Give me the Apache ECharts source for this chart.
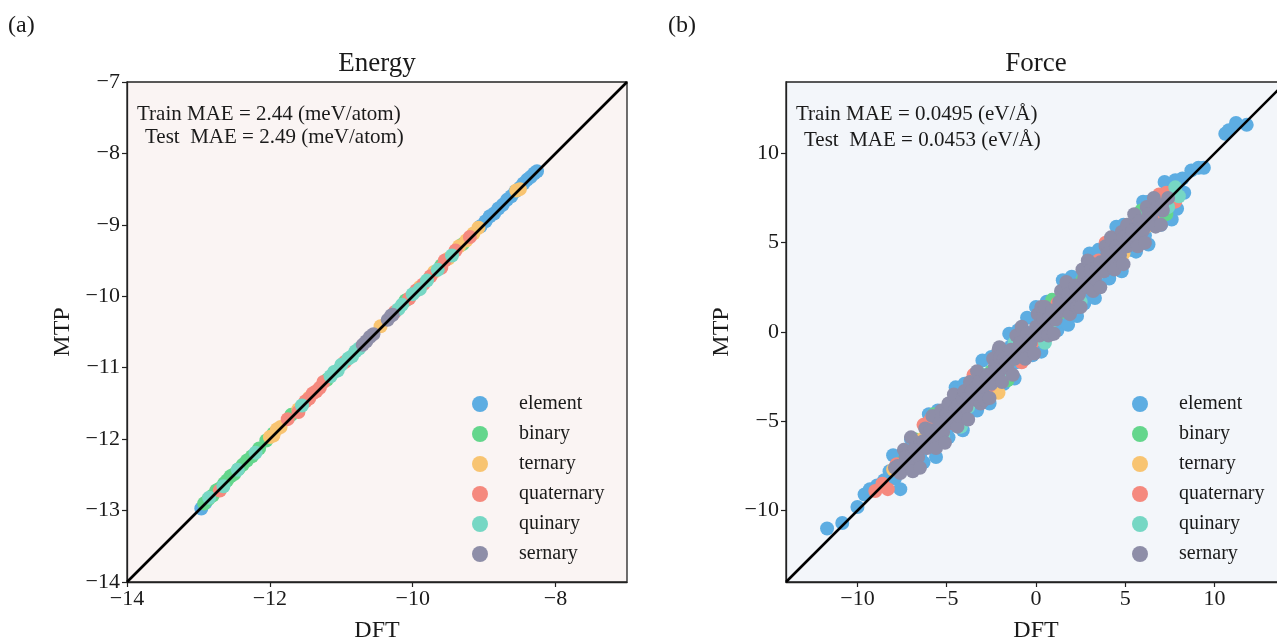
<!DOCTYPE html>
<html>
<head>
<meta charset="utf-8">
<title>MTP vs DFT parity plots</title>
<script src="https://cdn.jsdelivr.net/npm/echarts@6/dist/echarts.min.js"></script>
<style>
  html, body { margin: 0; padding: 0; background: #ffffff; }
  #chart { width: 1277px; height: 641px; }
</style>
</head>
<body>
<div id="chart"></div>
<script>
// ---- categories ----
const categories = ['element', 'binary', 'ternary', 'quaternary', 'quinary', 'sernary'];
const categoryColors = ['#5DADE2', '#64D68C', '#F8C471', '#F5897E', '#76D7C4', '#8E8EA8'];

// ---- tick labels ----
const energyXTicks = [-14, -12, -10, -8];
const energyYTicks = [-14, -13, -12, -11, -10, -9, -8, -7];
const forceTicks = [-10, -5, 0, 5, 10];

// ---- energy parity (DFT, MTP) in eV/atom ----
const energyElement = [[-12.96, -12.97], [-12.9, -12.89], [-9.05, -9.02], [-8.98, -8.95], [-8.92, -8.88],
  [-8.86, -8.84], [-8.8, -8.77], [-8.74, -8.72], [-8.68, -8.65], [-8.62, -8.6], [-8.56, -8.53],
  [-8.5, -8.48], [-8.45, -8.42], [-8.4, -8.37], [-8.35, -8.33], [-8.3, -8.28], [-8.26, -8.25]];
const energyBinary = [[-12.92, -12.9], [-12.86, -12.84], [-12.8, -12.79], [-12.75, -12.72], [-12.7, -12.69],
  [-12.64, -12.62], [-12.6, -12.58], [-12.55, -12.52], [-12.5, -12.49], [-12.44, -12.42], [-12.38, -12.36],
  [-12.32, -12.3], [-12.25, -12.24], [-12.15, -12.13], [-12.05, -12.02], [-11.95, -11.92], [-11.7, -11.66],
  [-11.2, -11.17], [-10.1, -10.06], [-9.6, -9.57], [-9.3, -9.27]];
const energyTernary = [[-12.0, -11.97], [-11.95, -11.95], [-11.9, -11.86], [-11.85, -11.83], [-11.6, -11.58],
  [-11.45, -11.42], [-10.45, -10.42], [-9.9, -9.87], [-9.7, -9.66], [-9.5, -9.47], [-9.35, -9.3],
  [-9.25, -9.22], [-9.15, -9.12], [-9.08, -9.04], [-8.55, -8.52], [-8.5, -8.5]];
const energyQuaternary = [[-12.7, -12.72], [-11.75, -11.72], [-11.6, -11.62], [-11.5, -11.47], [-11.45, -11.43],
  [-11.4, -11.36], [-11.35, -11.33], [-11.3, -11.28], [-11.25, -11.2], [-10.95, -10.92], [-10.25, -10.22],
  [-10.05, -10.03], [-9.95, -9.92], [-9.85, -9.83], [-9.75, -9.72], [-9.6, -9.6], [-9.55, -9.5],
  [-9.4, -9.36], [-9.2, -9.17]];
const energyQuinary = [[-12.85, -12.82], [-12.65, -12.66], [-12.45, -12.43], [-12.2, -12.19], [-11.55, -11.53],
  [-11.15, -11.12], [-11.1, -11.06], [-11.05, -11.04], [-11.0, -10.96], [-10.9, -10.87], [-10.85, -10.84],
  [-10.8, -10.77], [-10.75, -10.73], [-10.2, -10.18], [-10.15, -10.12], [-10.0, -9.97], [-9.9, -9.9],
  [-9.8, -9.78], [-9.65, -9.63], [-9.45, -9.43]];
const energySernary = [[-10.7, -10.68], [-10.65, -10.63], [-10.6, -10.57], [-10.55, -10.53],
  [-10.35, -10.33], [-10.3, -10.27], [-10.28, -10.26]];

// ---- force parity (DFT, MTP) in eV/Å ----
const forceElement = [[-11.7, -11.0], [-10.85, -10.7], [-10.0, -9.8], [-9.6, -9.1], [-9.3, -8.8], [-8.9, -8.6],
  [-8.5, -8.3], [-8.2, -7.8], [-8.0, -6.9], [-7.9, -8.2], [-7.6, -8.8], [-7.5, -7.0], [-7.2, -7.6],
  [-7.0, -6.0], [-6.8, -6.3], [-6.5, -6.9], [-6.3, -7.3], [-6.6, -6.1], [-6.0, -4.6], [-6.0, -5.6],
  [-5.8, -6.3], [-5.6, -7.0], [-5.5, -4.4], [-5.3, -4.8], [-5.0, -5.5], [-4.9, -5.9], [-4.6, -4.1],
  [-4.5, -3.1], [-4.3, -4.8], [-4.1, -5.5], [-4.0, -2.9], [-3.8, -3.3], [-3.5, -4.0], [-3.3, -4.4],
  [-3.0, -1.6], [-3.0, -2.5], [-2.7, -3.2], [-2.6, -4.0], [-2.5, -1.4], [-2.2, -1.6], [-1.9, -2.5],
  [-1.8, -2.9], [-1.5, -0.1], [-1.4, -0.8], [-1.2, -2.6], [-1.1, -1.7], [-1.0, 0.1], [-0.6, 0.0],
  [-0.5, 0.8], [-0.3, -0.9], [-0.2, -1.3], [0.0, 1.4], [0.2, 0.8], [0.3, -1.1], [0.5, -0.2], [0.6, 1.7],
  [0.9, -0.1], [1.0, 1.6], [1.2, 0.1], [1.3, 0.6], [1.5, 2.9], [1.8, 2.4], [1.8, 0.4], [2.0, 3.1],
  [2.1, 1.4], [2.3, 0.9], [2.6, 3.2], [2.7, 1.6], [2.9, 2.2], [3.0, 4.4], [3.3, 1.9], [3.4, 4.0],
  [3.5, 4.6], [3.7, 3.0], [4.1, 3.0], [4.2, 4.8], [4.3, 5.0], [4.5, 5.9], [4.5, 3.9], [4.8, 3.4],
  [4.9, 6.0], [5.0, 5.6], [5.3, 4.6], [5.6, 4.5], [5.8, 6.3], [6.0, 7.3], [6.1, 5.4], [6.3, 7.3],
  [6.3, 4.9], [6.6, 7.1], [6.9, 6.3], [7.0, 6.0], [7.2, 8.4], [7.4, 7.8], [7.6, 7.1], [7.6, 6.3],
  [7.8, 8.5], [7.9, 6.9], [8.0, 8.4], [8.2, 8.6], [8.3, 7.8], [8.7, 9.05], [9.1, 9.2], [9.4, 9.2],
  [10.6, 11.1], [10.8, 11.3], [11.2, 11.7], [11.8, 11.6]];
const forceBinary = [[-7.5, -7.3], [-6.8, -6.0], [-6.2, -6.4], [-5.7, -4.6], [-5.0, -4.7], [-4.4, -4.9],
  [-3.7, -3.9], [-3.2, -2.3], [-2.5, -2.2], [-1.6, -2.7], [-1.2, -1.5], [-0.4, -1.0], [0.3, 0.6],
  [0.9, 1.8], [1.4, 1.1], [1.9, 2.6], [2.6, 2.9], [3.4, 2.5], [3.9, 3.6], [4.6, 4.2], [5.2, 5.5],
  [5.9, 6.8], [6.4, 6.1], [6.7, 7.3], [7.2, 7.5], [7.3, 6.6], [7.6, 7.3]];
const forceTernary = [[-8.0, -7.7], [-6.4, -6.0], [-5.5, -5.2], [-4.1, -3.9], [-3.1, -3.4], [-2.1, -3.4],
  [-0.9, -0.5], [0.7, 0.4], [2.2, 2.5], [3.7, 3.4], [4.9, 4.4], [5.0, 5.3], [6.2, 5.9], [7.3, 7.5]];
const forceQuaternary = [[-9.0, -8.9], [-8.6, -8.5], [-8.3, -8.8], [-7.8, -7.4], [-6.9, -7.2], [-6.3, -5.2],
  [-5.9, -4.9], [-5.6, -5.0], [-5.3, -4.7], [-4.7, -5.1], [-3.5, -2.4], [-3.3, -2.8], [-2.6, -3.0],
  [-1.5, -1.1], [-0.8, -1.7], [-0.2, -0.6], [0.4, 1.4], [1.2, 1.6], [2.3, 1.8], [2.8, 3.5], [3.5, 4.0],
  [3.9, 5.0], [4.4, 4.0], [5.6, 6.1], [6.6, 6.2], [6.9, 7.7], [7.3, 7.8], [7.8, 7.3]];
const forceQuinary = [[-7.2, -7.0], [-6.0, -6.3], [-5.2, -5.8], [-4.9, -4.5], [-4.2, -5.3], [-3.8, -4.2],
  [-2.8, -2.4], [-1.7, -2.1], [-1.2, -0.6], [-0.4, -0.2], [0.5, -0.6], [0.8, 0.5], [1.9, 2.2],
  [2.5, 1.7], [3.0, 2.6], [4.1, 4.5], [5.2, 4.9], [5.7, 5.0], [6.3, 6.7], [7.4, 7.0], [7.8, 8.1], [8.0, 7.6]];
const forceSernary = [[-7.9, -7.6], [-7.75, -7.5], [-7.6, -7.9], [-7.4, -6.6], [-7.3, -7.0], [-7.1, -7.4],
  [-7.0, -5.9], [-6.95, -6.8], [-6.9, -7.8], [-6.8, -6.5], [-6.6, -7.0], [-6.5, -7.6], [-6.45, -6.2],
  [-6.3, -6.1], [-6.2, -5.4], [-6.1, -6.5], [-5.9, -5.5], [-5.85, -6.1], [-5.8, -4.7], [-5.7, -6.0],
  [-5.6, -6.5], [-5.5, -5.4], [-5.4, -5.1], [-5.3, -4.4], [-5.2, -5.6], [-5.1, -6.2], [-5.0, -4.6],
  [-4.95, -4.9], [-4.9, -4.0], [-4.8, -5.1], [-4.6, -3.5], [-4.5, -4.3], [-4.4, -5.3], [-4.35, -4.1],
  [-4.3, -4.7], [-4.1, -3.7], [-4.0, -3.3], [-3.9, -4.2], [-3.8, -4.9], [-3.75, -3.6], [-3.7, -2.8],
  [-3.6, -3.3], [-3.4, -3.8], [-3.3, -2.2], [-3.25, -3.1], [-3.2, -2.8], [-3.1, -4.0], [-3.0, -3.3],
  [-2.9, -3.8], [-2.8, -2.6], [-2.7, -2.4], [-2.6, -3.7], [-2.5, -2.9], [-2.4, -1.5], [-2.3, -1.9],
  [-2.2, -2.1], [-2.1, -2.4], [-2.1, -1.0], [-2.05, -0.85], [-2.0, -1.4], [-1.9, -2.8], [-1.8, -1.5],
  [-1.65, -1.7], [-1.6, -2.0], [-1.4, -1.0], [-1.3, -2.4], [-1.2, -1.5], [-1.1, -0.2], [-1.0, -1.0],
  [-0.9, -0.6], [-0.8, 0.3], [-0.7, -1.1], [-0.6, -1.5], [-0.5, -0.1], [-0.4, -0.5], [-0.3, -0.6],
  [-0.1, -1.2], [0.0, 0.3], [0.1, 1.0], [0.15, 0.1], [0.2, -0.2], [0.3, 1.4], [0.4, 0.8], [0.5, 1.4],
  [0.6, 0.3], [0.7, -0.2], [0.75, 0.8], [0.9, 1.2], [1.0, -0.1], [1.1, 0.7], [1.25, 1.2], [1.3, 1.7],
  [1.4, 2.3], [1.5, 1.2], [1.6, 2.4], [1.7, 2.8], [1.75, 1.7], [1.8, 2.1], [1.9, 1.0], [2.0, 1.6],
  [2.2, 2.6], [2.25, 2.2], [2.3, 1.4], [2.4, 2.1], [2.5, 1.4], [2.6, 3.5], [2.7, 3.0], [2.8, 2.7],
  [2.9, 2.5], [2.9, 4.0], [3.0, 3.9], [3.1, 3.5], [3.2, 2.3], [3.3, 3.0], [3.4, 3.5], [3.6, 3.9],
  [3.6, 2.5], [3.8, 3.4], [3.9, 4.8], [3.95, 4.0], [4.0, 4.4], [4.2, 3.9], [4.2, 5.3], [4.4, 3.5],
  [4.5, 4.8], [4.55, 4.5], [4.7, 4.3], [4.8, 5.6], [4.9, 5.3], [4.9, 3.8], [5.1, 4.8], [5.1, 6.0],
  [5.2, 5.2], [5.4, 5.7], [5.5, 6.6], [5.6, 5.2], [5.7, 4.8], [5.8, 6.2], [5.85, 5.8], [6.0, 5.7],
  [6.1, 5.0], [6.2, 7.0], [6.3, 6.6], [6.45, 6.4], [6.5, 6.1], [6.6, 7.5], [6.7, 5.9], [6.8, 7.0],
  [7.0, 6.0], [7.05, 7.1], [7.1, 6.8], [7.4, 7.5]];

// ---- y = x reference lines ----
const energyDiagonal = [[-14, -14], [-7, -7]];
const forceDiagonal = [[-14, -14], [14, 14]];

const energySets = [energyElement, energyBinary, energyTernary, energyQuaternary, energyQuinary, energySernary];
const forceSets = [forceElement, forceBinary, forceTernary, forceQuaternary, forceQuinary, forceSernary];

const SERIF = '"Liberation Serif", "DejaVu Serif", serif';
const INK = '#1a1a1a';
const minusFmt = v => String(v).replace('-', '\u2212');

function makeAxis(gridIndex, min, max, ticks, name, isY, nameGap) {
  return {
    type: 'value', gridIndex, min, max,
    name, nameLocation: 'middle', nameGap,
    nameTextStyle: { fontFamily: SERIF, fontSize: 24, color: INK },
    axisLine: { show: true, onZero: false, lineStyle: { color: '#222', width: 1.3 } },
    axisTick: { show: true, inside: false, length: 5, customValues: ticks, lineStyle: { color: '#222', width: 1.2 } },
    axisLabel: { customValues: ticks, formatter: minusFmt, fontFamily: SERIF, fontSize: 22, color: INK, margin: isY ? 7 : 6 },
    splitLine: { show: false }
  };
}

function scatterSeries(sets, axisIndex) {
  return sets.map((pts, i) => ({
    type: 'scatter', name: categories[i], xAxisIndex: axisIndex, yAxisIndex: axisIndex,
    data: pts, symbol: 'circle', symbolSize: 14,
    itemStyle: { color: categoryColors[i], opacity: 1 },
    emphasis: { disabled: true }, z: 2 + i * 0.01
  }));
}

function diagonal(pts, axisIndex) {
  return {
    type: 'line', xAxisIndex: axisIndex, yAxisIndex: axisIndex, data: pts,
    symbol: 'none', silent: true, clip: true,
    lineStyle: { color: '#000', width: 2.6 }, z: 5
  };
}

function legendAt(left) {
  return {
    data: categories, orient: 'vertical', left, top: 394, padding: 0,
    icon: 'circle', itemWidth: 16, itemHeight: 16, itemGap: 10,
    textStyle: { fontFamily: SERIF, fontSize: 20, color: INK, lineHeight: 20, padding: [0, 0, 0, 26] },
    selectedMode: false
  };
}

function txt(x, y, text, size, align) {
  return {
    type: 'text', x, y,
    style: { text, fontFamily: SERIF, fontSize: size, fill: INK, align: align || 'left', verticalAlign: 'middle' },
    z: 10
  };
}

const chart = echarts.init(document.getElementById('chart'), null, { renderer: 'canvas' });

const gridBase = { top: 82, width: 500, height: 500, show: true, borderColor: '#222', borderWidth: 1.3,
  containLabel: false, outerBoundsMode: 'none' };

chart.setOption({
  backgroundColor: '#ffffff',
  animation: false,
  grid: [
    Object.assign({}, gridBase, { left: 127, backgroundColor: '#faf4f3' }),
    Object.assign({}, gridBase, { left: 786, backgroundColor: '#f3f6fa' })
  ],
  xAxis: [
    makeAxis(0, -14, -7, energyXTicks, 'DFT', false, 37),
    makeAxis(1, -14, 14, forceTicks, 'DFT', false, 37)
  ],
  yAxis: [
    makeAxis(0, -14, -7, energyYTicks, 'MTP', true, 52),
    makeAxis(1, -14, 14, forceTicks, 'MTP', true, 52)
  ],
  legend: [legendAt(472), legendAt(1132)],
  series: [
    ...scatterSeries(energySets, 0),
    diagonal(energyDiagonal, 0),
    ...scatterSeries(forceSets, 1),
    diagonal(forceDiagonal, 1)
  ],
  graphic: [
    txt(8, 26, '(a)', 24),
    txt(668, 26, '(b)', 24),
    txt(377, 64, 'Energy', 27, 'center'),
    txt(1036, 64, 'Force', 27, 'center'),
    txt(137, 114, 'Train MAE = 2.44 (meV/atom)', 21),
    txt(145, 137, 'Test  MAE = 2.49 (meV/atom)', 21),
    txt(796, 114, 'Train MAE = 0.0495 (eV/\u00C5)', 21),
    txt(804, 140, 'Test  MAE = 0.0453 (eV/\u00C5)', 21)
  ]
});
</script>
</body>
</html>
